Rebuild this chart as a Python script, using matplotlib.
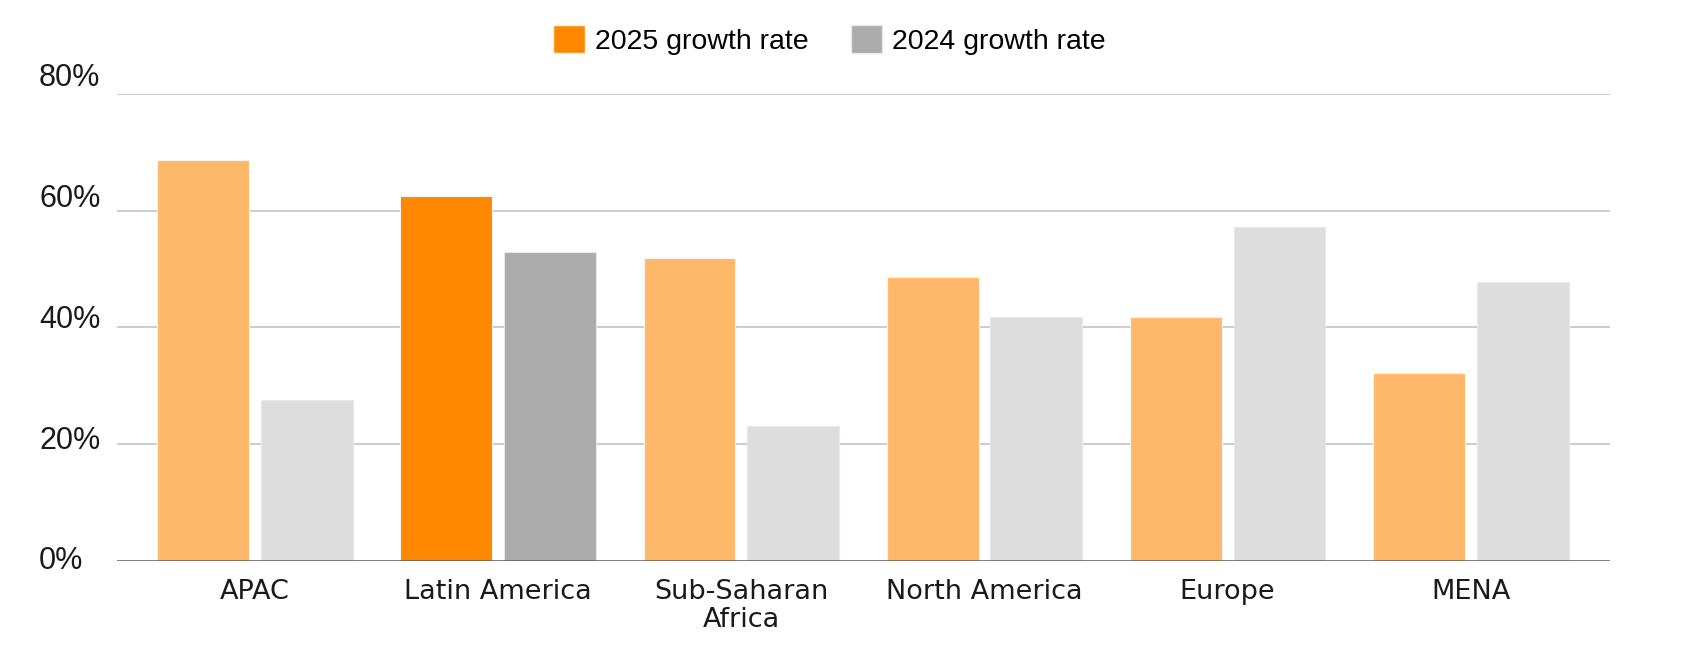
import matplotlib
matplotlib.use('Agg')
import matplotlib.pyplot as plt
import matplotlib.transforms as mtransforms
from matplotlib.patches import Patch
import numpy as np

# data
regions = ['APAC', 'Latin America', 'Sub-Saharan\nAfrica', 'North America', 'Europe', 'MENA']
growth_2025 = [68.7, 62.6, 51.9, 48.6, 41.8, 32.2]
growth_2024 = [27.5, 52.9, 23.2, 41.8, 57.2, 47.8]
highlight = 'Latin America'
y_ticks = [0, 20, 40, 60, 80]

ORANGE = '#FF8800'
ORANGE_LIGHT = '#FFB86A'
GREY = '#ABABAB'
GREY_LIGHT = '#DDDDDD'

fig = plt.figure(figsize=(16.93, 6.67), dpi=100)
ax = fig.add_axes([0.069, 0.159, 0.882, 0.700])

x = np.arange(len(regions))
width = 0.378
offset = 0.2135

colors_2025 = [ORANGE if r == highlight else ORANGE_LIGHT for r in regions]
colors_2024 = [GREY if r == highlight else GREY_LIGHT for r in regions]

ax.bar(x - offset, growth_2025, width, color=colors_2025,
       edgecolor='#f4f4f4', linewidth=0.8, zorder=3)
ax.bar(x + offset, growth_2024, width, color=colors_2024,
       edgecolor='#e8e8e8', linewidth=0.8, zorder=3)

ax.set_xlim(-0.569, len(regions) - 1 + 0.573)
ax.set_ylim(0, 80)

# gridlines (no line at zero, the axis takes that place)
for t in y_ticks[1:]:
    ax.axhline(t, color='#cccccc', linewidth=1.4, zorder=1)
ax.axhline(0, color='#5a5a5a', linewidth=1.8, zorder=4)

for side in ['top', 'right', 'left', 'bottom']:
    ax.spines[side].set_visible(False)

ax.set_yticks(y_ticks)
ax.set_yticklabels([f'{t}%' for t in y_ticks], fontsize=22,
                   family='Liberation Sans', color='#1a1a1a', ha='left')
ax.tick_params(axis='y', length=0, pad=56)
# labels sit a little above their gridlines in the original
for t, lab in zip(y_ticks, ax.get_yticklabels()):
    dy = (3 + 0.21 * t) / 100
    lab.set_transform(lab.get_transform() +
                      mtransforms.ScaledTranslation(0, dy, fig.dpi_scale_trans))

ax.set_xticks(x)
ax.set_xticklabels(regions, fontsize=19.5, family='DejaVu Sans',
                   color='#1a1a1a', linespacing=1.08)
ax.tick_params(axis='x', length=0, pad=13)

handles = [Patch(facecolor=ORANGE, edgecolor='#f4f4f4'),
           Patch(facecolor=GREY, edgecolor='#e8e8e8')]
fig.legend(handles, ['2025 growth rate', '2024 growth rate'],
           loc='center', bbox_to_anchor=(0.49, 0.94), ncol=2,
           frameon=False, prop={'family': 'Liberation Sans', 'size': 20.5},
           handlelength=1.1, handleheight=1.1, handletextpad=0.35,
           columnspacing=1.5)

fig.savefig('out.png', dpi=100, facecolor='white')
